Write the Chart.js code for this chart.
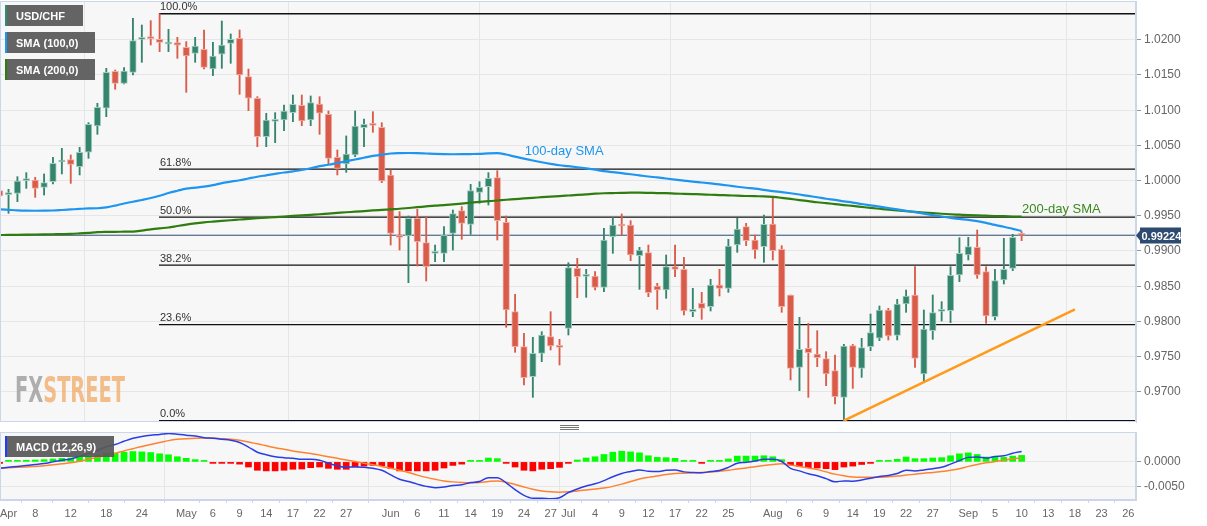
<!DOCTYPE html>
<html>
<head>
<meta charset="utf-8">
<script src="https://cdn.jsdelivr.net/npm/chart.js@4.4.1/dist/chart.umd.min.js"></script>
<style>
  body { margin: 0; background: #fff; width: 1207px; height: 526px; overflow: hidden; position: relative; }
  canvas { position: absolute; left: 0; }
  #priceChart { top: 0; }
  #macdChart { top: 424px; }
</style>
</head>
<body>
<canvas id="priceChart" width="1207" height="424"></canvas>
<canvas id="macdChart" width="1207" height="102"></canvas>
<script>
// trading days shown (2019), x position = index in this list
const dates = [
  '04-02','04-03','04-04','04-05','04-08','04-09','04-10','04-11','04-12','04-15','04-16','04-17','04-18','04-19','04-22','04-23','04-24','04-25','04-26','04-29','04-30',
  '05-01','05-02','05-03','05-06','05-07','05-08','05-09','05-10','05-13','05-14','05-15','05-16','05-17','05-20','05-21','05-22','05-23','05-24','05-27','05-28','05-29','05-30','05-31',
  '06-03','06-04','06-05','06-06','06-07','06-10','06-11','06-12','06-13','06-14','06-17','06-18','06-19','06-20','06-21','06-24','06-25','06-26','06-27','06-28',
  '07-01','07-02','07-03','07-04','07-05','07-08','07-09','07-10','07-11','07-12','07-15','07-16','07-17','07-18','07-19','07-22','07-23','07-24','07-25','07-26','07-29','07-30','07-31',
  '08-01','08-02','08-05','08-06','08-07','08-08','08-09','08-12','08-13','08-14','08-15','08-16','08-19','08-20','08-21','08-22','08-23','08-26','08-27','08-28','08-29','08-30',
  '09-02','09-03','09-04','09-05','09-06','09-09','09-10'
];

const open = [
  0.99857,0.99800,0.99819,0.99999,1.00009,0.99904,0.99985,1.00264,1.00297,1.00198,
  1.00402,1.00776,1.01027,1.01552,1.01382,1.01538,1.02007,1.02035,1.02007,1.01940,
  1.01959,1.01893,1.01808,1.01865,1.01585,1.01794,1.01950,1.02021,1.01476,1.01169,
  1.00624,1.00842,1.00861,1.00965,1.01069,1.00861,1.01088,1.00941,1.00331,1.00236,
  1.00364,1.00752,1.00804,1.00757,1.00080,0.99227,0.99213,0.99464,0.99118,0.98967,
  0.98967,0.99251,0.99573,0.99379,0.99833,0.99914,1.00042,0.99407,0.98138,0.97641,
  0.97215,0.97546,0.97783,0.97651,0.97901,0.98754,0.98640,0.98645,0.98484,0.99204,
  0.99384,0.99369,0.98934,0.98976,0.98503,0.98446,0.98777,0.98740,0.98138,0.98257,
  0.98209,0.98517,0.98470,0.99085,0.99346,0.99156,0.99062,0.99384,0.99024,0.98375,
  0.97347,0.97617,0.97537,0.97471,0.97300,0.96921,0.97655,0.97333,0.97641,0.97760,
  0.98162,0.97802,0.98247,0.98375,0.97253,0.97868,0.98143,0.98152,0.98659,0.98943,
  0.99052,0.98706,0.98067,0.98588,0.98754,0.99230
];
const high = [
  1.00009,0.99876,1.00056,1.00113,1.00046,1.00094,1.00331,1.00458,1.00364,1.00473,
  1.00823,1.01098,1.01595,1.01571,1.01604,1.02305,1.02210,1.02272,1.02370,1.02149,
  1.02035,1.01974,1.02035,1.02139,1.01964,1.02267,1.02083,1.02139,1.01585,1.01192,
  1.00956,1.00965,1.01074,1.01216,1.01216,1.01202,1.01192,1.00989,1.00435,1.00634,
  1.00989,1.00875,1.00979,1.00823,1.00151,0.99559,0.99497,0.99592,0.99488,0.99085,
  0.99346,0.99582,0.99630,0.99947,0.99985,1.00113,1.00141,0.99497,0.98384,0.97830,
  0.97774,0.97854,0.98138,0.97745,0.98834,0.98896,0.98740,0.98706,0.99322,0.99478,
  0.99526,0.99431,0.99052,0.99085,0.98541,0.98943,0.99085,0.98910,0.98470,0.98413,
  0.98598,0.98740,0.99166,0.99464,0.99393,0.99227,0.99511,0.99758,0.99076,0.98375,
  0.98058,0.97973,0.97868,0.97570,0.97523,0.97674,0.97674,0.97760,0.98105,0.98219,
  0.98186,0.98313,0.98446,0.98777,0.98162,0.98375,0.98280,0.98777,0.99189,0.99194,
  0.99298,0.98777,0.98740,0.99180,0.99237,0.99275
];
const low = [
  0.99724,0.99535,0.99701,0.99890,0.99762,0.99795,0.99952,1.00094,0.99961,1.00080,
  1.00316,1.00657,1.00908,1.01297,1.01372,1.01500,1.01680,1.01926,1.01832,1.01832,
  1.01737,1.01254,1.01680,1.01585,1.01491,1.01595,1.01666,1.01225,1.00993,1.00482,
  1.00482,1.00539,1.00709,1.00837,1.00780,1.00780,1.00657,1.00236,1.00080,1.00117,
  1.00340,1.00482,1.00686,0.99971,0.99085,0.99014,0.98550,0.98787,0.98574,0.98848,
  0.98848,0.99014,0.99166,0.99237,0.99677,0.99653,0.99156,0.97916,0.97561,0.97097,
  0.96921,0.97428,0.97594,0.97381,0.97807,0.98337,0.98342,0.98446,0.98422,0.98967,
  0.99227,0.98863,0.98455,0.98351,0.98171,0.98328,0.98635,0.98091,0.98067,0.98029,
  0.98148,0.98361,0.98413,0.98981,0.99076,0.98896,0.98839,0.98872,0.98129,0.97168,
  0.97016,0.96921,0.97357,0.97087,0.96827,0.96590,0.97049,0.97205,0.97584,0.97726,
  0.97736,0.97736,0.98129,0.97347,0.97130,0.97745,0.98006,0.97982,0.98564,0.98872,
  0.98612,0.97973,0.98020,0.98531,0.98721,0.99147
];
const close = [
  0.99781,0.99810,0.99994,1.00009,0.99890,0.99971,1.00245,1.00283,1.00231,1.00402,
  1.00799,1.01041,1.01538,1.01382,1.01557,1.01988,1.02021,1.02016,1.01964,1.01955,
  1.01922,1.01770,1.01912,1.01609,1.01770,1.01926,1.02007,1.01500,1.01169,1.00624,
  1.00861,1.00851,1.00989,1.01083,1.00847,1.01107,1.00956,1.00316,1.00174,1.00378,
  1.00776,1.00799,1.00785,0.99994,0.99251,0.99194,0.99464,0.99133,0.98777,0.98981,
  0.99227,0.99530,0.99393,0.99857,0.99904,1.00032,0.99431,0.98162,0.97641,0.97201,
  0.97546,0.97807,0.97651,0.97632,0.98763,0.98635,0.98654,0.98484,0.99156,0.99369,
  0.99355,0.98943,0.99014,0.98408,0.98446,0.98777,0.98740,0.98148,0.98171,0.98186,
  0.98517,0.98470,0.99071,0.99313,0.99147,0.99014,0.99379,0.99005,0.98209,0.97333,
  0.97603,0.97556,0.97485,0.97253,0.96931,0.97651,0.97347,0.97627,0.97840,0.98162,
  0.97793,0.98247,0.98361,0.97475,0.97892,0.98124,0.98162,0.98654,0.98967,0.99062,
  0.98659,0.98077,0.98579,0.98740,0.99194,0.99224
];

const sma100 = [
  0.99592,0.99585,0.99578,0.99574,0.99572,0.99573,0.99575,0.99582,0.99590,0.99598,
  0.99605,0.99607,0.99620,0.99645,0.99675,0.99700,0.99725,0.99752,0.99785,0.99823,
  0.99855,0.99885,0.99900,0.99915,0.99935,0.99965,0.99985,1.00005,1.00030,1.00055,
  1.00075,1.00095,1.00115,1.00132,1.00150,1.00175,1.00205,1.00225,1.00250,1.00275,
  1.00300,1.00325,1.00350,1.00370,1.00385,1.00390,1.00392,1.00390,1.00385,1.00380,
  1.00376,1.00374,1.00375,1.00377,1.00380,1.00387,1.00390,1.00370,1.00340,1.00312,
  1.00285,1.00260,1.00238,1.00218,1.00205,1.00190,1.00173,1.00155,1.00135,1.00120,
  1.00105,1.00090,1.00074,1.00058,1.00045,1.00030,1.00015,1.00000,0.99985,0.99973,
  0.99960,0.99945,0.99930,0.99913,0.99898,0.99885,0.99868,0.99850,0.99836,0.99820,
  0.99802,0.99782,0.99763,0.99742,0.99725,0.99705,0.99688,0.99667,0.99648,0.99630,
  0.99610,0.99590,0.99570,0.99552,0.99532,0.99510,0.99490,0.99470,0.99455,0.99442,
  0.99425,0.99400,0.99370,0.99345,0.99315,0.99284
];
const sma200 = [
  0.99227,0.99228,0.99230,0.99232,0.99234,0.99236,0.99238,0.99240,0.99243,0.99250,
  0.99258,0.99267,0.99271,0.99273,0.99274,0.99276,0.99290,0.99308,0.99322,0.99334,
  0.99355,0.99375,0.99392,0.99406,0.99417,0.99427,0.99437,0.99447,0.99457,0.99465,
  0.99473,0.99481,0.99490,0.99498,0.99506,0.99514,0.99522,0.99532,0.99541,0.99550,
  0.99558,0.99567,0.99576,0.99584,0.99592,0.99600,0.99611,0.99622,0.99634,0.99645,
  0.99652,0.99663,0.99674,0.99686,0.99697,0.99707,0.99717,0.99728,0.99737,0.99747,
  0.99755,0.99765,0.99773,0.99780,0.99788,0.99796,0.99805,0.99814,0.99820,0.99823,
  0.99826,0.99828,0.99828,0.99826,0.99823,0.99821,0.99816,0.99812,0.99808,0.99804,
  0.99799,0.99795,0.99790,0.99786,0.99781,0.99778,0.99776,0.99768,0.99755,0.99740,
  0.99723,0.99708,0.99692,0.99680,0.99666,0.99652,0.99640,0.99626,0.99612,0.99600,
  0.99588,0.99577,0.99566,0.99556,0.99546,0.99537,0.99529,0.99522,0.99516,0.99510,
  0.99505,0.99501,0.99497,0.99494,0.99490,0.99487
];

const macdLine = [
  -0.00132,-0.00111,-0.00092,-0.00072,-0.00053,-0.00033,0.00000,0.00033,0.00059,0.00112,
  0.00165,0.00237,0.00310,0.00355,0.00421,0.00481,0.00520,0.00546,0.00560,0.00579,
  0.00566,0.00546,0.00526,0.00494,0.00480,0.00461,0.00441,0.00395,0.00303,0.00197,
  0.00145,0.00106,0.00086,0.00073,0.00052,0.00053,0.00033,-0.00027,-0.00079,-0.00112,
  -0.00098,-0.00112,-0.00131,-0.00171,-0.00264,-0.00355,-0.00401,-0.00454,-0.00500,-0.00526,
  -0.00513,-0.00480,-0.00467,-0.00421,-0.00401,-0.00322,-0.00322,-0.00428,-0.00566,-0.00684,
  -0.00743,-0.00743,-0.00750,-0.00731,-0.00625,-0.00553,-0.00493,-0.00448,-0.00382,-0.00303,
  -0.00237,-0.00197,-0.00165,-0.00191,-0.00198,-0.00171,-0.00165,-0.00204,-0.00217,-0.00224,
  -0.00197,-0.00178,-0.00112,-0.00027,-0.00007,0.00019,0.00053,0.00052,0.00007,-0.00132,
  -0.00184,-0.00243,-0.00283,-0.00342,-0.00408,-0.00388,-0.00395,-0.00369,-0.00336,-0.00296,
  -0.00277,-0.00237,-0.00171,-0.00184,-0.00164,-0.00138,-0.00111,-0.00046,0.00027,0.00092,
  0.00098,0.00079,0.00112,0.00125,0.00177,0.00211
];
const signalLine = [
  -0.00125,-0.00118,-0.00112,-0.00105,-0.00092,-0.00079,-0.00059,-0.00039,-0.00020,0.00013,
  0.00053,0.00092,0.00132,0.00171,0.00224,0.00270,0.00316,0.00355,0.00395,0.00434,
  0.00461,0.00474,0.00480,0.00487,0.00487,0.00474,0.00461,0.00441,0.00408,0.00368,
  0.00329,0.00290,0.00257,0.00224,0.00197,0.00171,0.00138,0.00105,0.00072,0.00039,
  0.00007,-0.00026,-0.00059,-0.00092,-0.00132,-0.00171,-0.00217,-0.00270,-0.00316,-0.00355,
  -0.00388,-0.00408,-0.00421,-0.00428,-0.00421,-0.00401,-0.00388,-0.00415,-0.00461,-0.00513,
  -0.00559,-0.00592,-0.00612,-0.00619,-0.00612,-0.00592,-0.00572,-0.00553,-0.00533,-0.00500,
  -0.00454,-0.00401,-0.00349,-0.00316,-0.00290,-0.00257,-0.00237,-0.00230,-0.00224,-0.00217,
  -0.00204,-0.00191,-0.00171,-0.00145,-0.00125,-0.00099,-0.00072,-0.00053,-0.00039,-0.00066,
  -0.00092,-0.00125,-0.00158,-0.00204,-0.00250,-0.00283,-0.00309,-0.00316,-0.00316,-0.00316,
  -0.00303,-0.00290,-0.00270,-0.00250,-0.00230,-0.00217,-0.00197,-0.00171,-0.00138,-0.00092,
  -0.00053,-0.00020,0.00007,0.00033,0.00059,0.00079
];
const macdHist = [
  -0.00007,0.00007,0.00020,0.00033,0.00039,0.00046,0.00059,0.00072,0.00079,0.00099,
  0.00112,0.00145,0.00178,0.00184,0.00197,0.00211,0.00204,0.00191,0.00165,0.00145,
  0.00105,0.00072,0.00046,0.00007,-0.00007,-0.00013,-0.00020,-0.00046,-0.00105,-0.00171,
  -0.00184,-0.00184,-0.00171,-0.00151,-0.00145,-0.00118,-0.00105,-0.00132,-0.00151,-0.00151,
  -0.00105,-0.00086,-0.00072,-0.00079,-0.00132,-0.00184,-0.00184,-0.00184,-0.00184,-0.00171,
  -0.00125,-0.00072,-0.00046,0.00007,0.00020,0.00079,0.00066,-0.00013,-0.00105,-0.00171,
  -0.00184,-0.00151,-0.00138,-0.00112,-0.00013,0.00039,0.00079,0.00105,0.00151,0.00197,
  0.00217,0.00204,0.00184,0.00125,0.00092,0.00086,0.00072,0.00026,0.00007,-0.00007,
  0.00007,0.00013,0.00059,0.00118,0.00118,0.00118,0.00125,0.00105,0.00046,-0.00066,
  -0.00092,-0.00118,-0.00125,-0.00138,-0.00158,-0.00105,-0.00086,-0.00053,-0.00020,0.00020,
  0.00026,0.00053,0.00099,0.00066,0.00066,0.00079,0.00086,0.00125,0.00165,0.00184,
  0.00151,0.00099,0.00105,0.00092,0.00118,0.00132
];

// x axis: trading-day positions of the date labels (continues past the last candle)
const tickPos = [1, 4, 8, 12, 16, 21, 24, 27, 30, 33, 36, 39, 44, 47, 50, 53, 56, 59, 62, 64, 67, 70, 73, 76, 79, 82,
  87, 90, 93, 96, 99, 102, 105, 109, 112, 115, 118, 121, 124, 127];
const tickLabels = ['Apr', '8', '12', '18', '24', 'May', '6', '9', '14', '17', '22', '27', 'Jun', '6', '11', '14', '19', '24', '27', 'Jul', '4', '9', '12', '17', '22', '25',
  'Aug', '6', '9', '14', '19', '22', '27', 'Sep', '5', '10', '13', '18', '23', '26'];
const monthTicks = [21, 44, 64, 87, 109];
const priceTicks = [0.97, 0.975, 0.98, 0.985, 0.99, 0.995, 1.0, 1.005, 1.01, 1.015, 1.02];
const macdTicks = [-0.005, 0];

const fibLevels = [1.0237, 1.00162, 0.9948, 0.98798, 0.97954, 0.9659];
const fibLabels = ['100.0%', '61.8%', '50.0%', '38.2%', '23.6%', '0.0%'];
const fibStart = 17.93;
const trendX = [95, 121];
const trendY = [0.9659, 0.9817];
const lastPrice = 0.99224;

const xMin = 0.04, xMax = 127.87;
const FONT = '"Liberation Sans", Arial, sans-serif';
Chart.defaults.font.family = FONT;
Chart.defaults.animation = false;

const UP = '#34846e', UP_EDGE = '#a3cdbf', DOWN = '#d95b49', DOWN_EDGE = '#f0aca2';
const isUp = (i) => close[i] >= open[i];

// keep the plot area edges exactly where the layout padding puts them
const noLabelPad = (s) => { s.paddingTop = 0; s.paddingBottom = 0; };

function tag(ctx, x, y, w, h, stripe, text) {
  ctx.fillStyle = 'rgba(88,88,88,0.93)';
  ctx.fillRect(x, y, w, h);
  ctx.fillStyle = stripe;
  ctx.fillRect(x, y, 2, h);
  ctx.fillStyle = '#fff';
  ctx.font = 'bold 11px ' + FONT;
  ctx.textBaseline = 'middle';
  ctx.textAlign = 'left';
  ctx.fillText(text, x + 11, y + h / 2 + 1);
}

const paneBg = {
  id: 'paneBg',
  beforeDraw(chart) {
    const { ctx, chartArea: a } = chart;
    ctx.save();
    ctx.fillStyle = '#fff';
    ctx.fillRect(0, 0, chart.width, chart.height);
    ctx.fillStyle = '#f7f7f7';
    ctx.fillRect(a.left, a.top, a.right - a.left, a.bottom - a.top);
    ctx.restore();
  },
  afterDraw(chart) {
    const { ctx, chartArea: a } = chart;
    ctx.save();
    ctx.strokeStyle = '#ccd6eb';
    ctx.lineWidth = 1;
    ctx.strokeRect(a.left + 0.5, a.top + 0.5, a.right - a.left - 1, a.bottom - a.top - 1);
    ctx.restore();
  }
};

const priceDecor = {
  id: 'priceDecor',
  beforeDatasetsDraw(chart) {
    // FXSTREET watermark
    const { ctx } = chart;
    ctx.save();
    ctx.font = 'bold 36px "Liberation Sans Narrow", "DejaVu Sans Condensed", ' + FONT;
    const w1 = ctx.measureText('FX').width, w2 = ctx.measureText('STREET').width;
    ctx.translate(15, 402);
    ctx.scale(110 / (w1 + w2), 1);
    ctx.textBaseline = 'alphabetic';
    ctx.fillStyle = 'rgba(150,150,150,0.75)';
    ctx.fillText('FX', 0, 0);
    ctx.fillStyle = 'rgba(242,170,100,0.75)';
    ctx.fillText('STREET', w1, 0);
    ctx.restore();
  },
  afterDraw(chart) {
    const { ctx, scales: { x, y }, chartArea: a } = chart;
    ctx.save();
    // fibonacci labels
    ctx.font = '11px ' + FONT;
    ctx.fillStyle = '#333';
    ctx.textBaseline = 'bottom';
    fibLevels.forEach((v, i) => ctx.fillText(fibLabels[i], x.getPixelForValue(fibStart) + 1, y.getPixelForValue(v) - 1));
    // moving average captions
    ctx.font = '13px ' + FONT;
    ctx.textBaseline = 'middle';
    ctx.fillStyle = '#1e96f0';
    ctx.fillText('100-day SMA', x.getPixelForValue(59.1), y.getPixelForValue(1.0041));
    ctx.fillStyle = '#3a8a1c';
    ctx.fillText('200-day SMA', x.getPixelForValue(115.04), y.getPixelForValue(0.99597));
    // legend tags
    tag(ctx, 5, 5, 78, 21, '#2e8b74', 'USD/CHF');
    tag(ctx, 5, 32, 90, 21, '#1e96f0', 'SMA (100,0)');
    tag(ctx, 5, 59, 90, 21, '#2f7d0f', 'SMA (200,0)');
    // last price tag
    const py = Math.round(y.getPixelForValue(lastPrice)) + 0.5;
    const px = a.right + 4;
    ctx.fillStyle = '#2d4a70';
    ctx.beginPath();
    ctx.moveTo(a.right, py);
    ctx.lineTo(px, py - 5);
    ctx.lineTo(px, py + 5);
    ctx.closePath();
    ctx.fill();
    ctx.fillRect(px, py - 8, 41, 16);
    ctx.fillStyle = '#fff';
    ctx.font = 'bold 11px ' + FONT;
    ctx.textBaseline = 'middle';
    ctx.fillText(lastPrice.toFixed(5), px + 1.5, py + 1);
    ctx.restore();
  }
};

const macdDecor = {
  id: 'macdDecor',
  afterDraw(chart) {
    const { ctx } = chart;
    ctx.save();
    tag(ctx, 5, 12, 109, 21, '#1f3cff', 'MACD (12,26,9)');
    ctx.strokeStyle = '#777';
    ctx.lineWidth = 1;
    for (let k = 0; k < 3; k++) {
      ctx.beginPath();
      ctx.moveTo(560, 1.5 + k * 2);
      ctx.lineTo(579, 1.5 + k * 2);
      ctx.stroke();
    }
    ctx.restore();
  }
};

const pts = (arr) => arr.map((v, i) => ({ x: i, y: v }));
const hLine = (x0, x1, v) => [{ x: x0, y: v }, { x: x1, y: v }];

const priceDatasets = [
  {
    type: 'line', data: pts(sma100), borderColor: '#1e96f0', borderWidth: 2.2,
    pointRadius: 0, cubicInterpolationMode: 'monotone', order: 0
  },
  {
    type: 'line', data: pts(sma200), borderColor: '#2f7d0f', borderWidth: 2.2,
    pointRadius: 0, cubicInterpolationMode: 'monotone', order: 0
  },
  {
    type: 'line', data: [{ x: trendX[0], y: trendY[0] }, { x: trendX[1], y: trendY[1] }],
    borderColor: '#ff9a1a', borderWidth: 2.5, pointRadius: 0, order: 0
  },
  {
    type: 'bar', data: dates.map((d, i) => ({ x: i, y: [open[i], close[i]] })),
    backgroundColor: dates.map((d, i) => isUp(i) ? UP : DOWN),
    borderColor: dates.map((d, i) => isUp(i) ? UP_EDGE : DOWN_EDGE),
    borderWidth: 1, borderSkipped: false, barThickness: 6.6, minBarLength: 2, grouped: false, order: 2
  },
  {
    type: 'bar', data: dates.map((d, i) => ({ x: i, y: [low[i], high[i]] })),
    backgroundColor: dates.map((d, i) => isUp(i) ? UP : DOWN),
    barThickness: 1.2, grouped: false, order: 3
  },
  {
    type: 'line', data: hLine(xMin, xMax, lastPrice), borderColor: '#2d4a70', borderWidth: 1,
    pointRadius: 0, order: 4
  }
];
fibLevels.forEach((v) => priceDatasets.push({
  type: 'line', data: hLine(fibStart, xMax, v), borderColor: '#111', borderWidth: 1.3,
  pointRadius: 0, order: 5
}));

new Chart(document.getElementById('priceChart'), {
  type: 'bar',
  data: { datasets: priceDatasets },
  options: {
    responsive: false,
    devicePixelRatio: 1,
    layout: { padding: { top: 1, bottom: 2, left: 0, right: 0 } },
    plugins: { legend: { display: false }, tooltip: { enabled: false } },
    scales: {
      x: {
        type: 'linear', min: xMin, max: xMax, offset: false,
        afterBuildTicks: (s) => { s.ticks = monthTicks.map((v) => ({ value: v })); },
        afterFit: (s) => { s.height = 0; s.paddingLeft = 0; s.paddingRight = 0; },
        ticks: { display: false },
        grid: { color: '#e6e6e6', drawTicks: false },
        border: { display: false }
      },
      y: {
        position: 'right', min: 0.96571, max: 1.02551,
        afterBuildTicks: (s) => { s.ticks = priceTicks.map((v) => ({ value: v })); },
        afterFit: (s) => { s.width = 71; noLabelPad(s); },
        ticks: { callback: (v) => v.toFixed(4), color: '#666', font: { size: 12 }, padding: 3 },
        grid: { color: '#e6e6e6', tickLength: 5, tickColor: '#999' },
        border: { color: '#ccd6eb' }
      }
    }
  },
  plugins: [paneBg, priceDecor]
});

new Chart(document.getElementById('macdChart'), {
  type: 'bar',
  data: {
    datasets: [
      {
        type: 'line', data: pts(macdLine), borderColor: '#2a3ce6', borderWidth: 1.5,
        pointRadius: 0, cubicInterpolationMode: 'monotone', order: 0
      },
      {
        type: 'line', data: pts(signalLine), borderColor: '#ff8230', borderWidth: 1.5,
        pointRadius: 0, cubicInterpolationMode: 'monotone', order: 1
      },
      {
        type: 'bar', data: pts(macdHist),
        backgroundColor: macdHist.map((v) => v >= 0 ? '#00ff00' : '#ff0000'),
        barThickness: 6, minBarLength: 1.5, grouped: false, order: 2
      }
    ]
  },
  options: {
    responsive: false,
    devicePixelRatio: 1,
    layout: { padding: { top: 8, bottom: 0, left: 0, right: 0 } },
    plugins: { legend: { display: false }, tooltip: { enabled: false } },
    scales: {
      x: {
        type: 'linear', min: xMin, max: xMax, offset: false,
        afterBuildTicks: (s) => { s.ticks = tickPos.map((v) => ({ value: v })); },
        afterFit: (s) => { s.height = 26; s.paddingLeft = 0; s.paddingRight = 0; },
        ticks: {
          callback: (v) => tickLabels[tickPos.indexOf(v)],
          autoSkip: false, maxRotation: 0, minRotation: 0,
          color: '#666', font: { size: 11 }, padding: 4
        },
        grid: {
          color: (c) => (c.tick && monthTicks.includes(c.tick.value)) ? '#e6e6e6' : 'rgba(0,0,0,0)',
          tickColor: '#ccd6eb', tickLength: 3
        },
        border: { color: '#ccd6eb' }
      },
      y: {
        position: 'right', min: -0.00778, max: 0.0061,
        afterBuildTicks: (s) => { s.ticks = macdTicks.map((v) => ({ value: v })); },
        afterFit: (s) => { s.width = 71; noLabelPad(s); },
        ticks: { callback: (v) => v.toFixed(4), color: '#666', font: { size: 12 }, padding: 3 },
        grid: { color: '#e6e6e6', tickLength: 5, tickColor: '#999' },
        border: { color: '#ccd6eb' }
      }
    }
  },
  plugins: [paneBg, macdDecor]
});
</script>
</body>
</html>
